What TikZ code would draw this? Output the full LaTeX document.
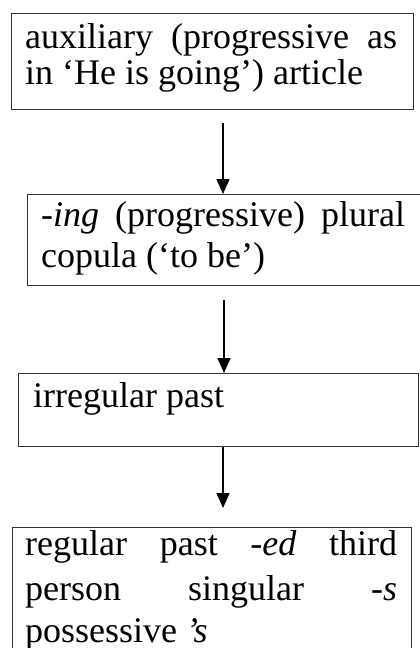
\documentclass[tikz,border=0pt]{standalone}
\usepackage{fontspec}
\setmainfont{Liberation Serif}
\usetikzlibrary{arrows.meta}
\begin{document}
\begin{tikzpicture}[x=1pt,y=-1pt,
  boxst/.style={draw=black!80,line width=1.3pt,inner sep=0pt,anchor=north west},
  txt/.style={anchor=base west,inner sep=0pt,font=\fontsize{36}{40}\selectfont},
  arr/.style={line width=1.6pt,-{Triangle[width=13pt,length=15pt]}}]
\useasboundingbox (0,0) rectangle (420,648);
\fill[white] (0,0) rectangle (420,648);
% boxes
\node[boxst,minimum width=402pt,minimum height=96pt] (b1) at (11,13) {};
\node[boxst,minimum width=400pt,minimum height=91pt] (b2) at (27,194) {};
\node[boxst,minimum width=400pt,minimum height=73pt] (b3) at (18,373) {};
\node[boxst,minimum width=399pt,minimum height=140pt] (b4) at (12,527) {};
% texts
\node[txt] (t11) at (25,48) {\makebox[372pt][s]{auxiliary (progressive as}};
\node[txt] (t12) at (25,84) {in ‘He is going’) article};
\node[txt] (t21) at (41,226) {\makebox[364pt][s]{-\textit{ing} (progressive) plural}};
\node[txt] (t22) at (41,267) {copula (‘to be’)};
\node[txt] (t31) at (33,407) {irregular past};
\node[txt] (t41) at (25,555) {\makebox[372pt][s]{regular past -\textit{ed} third}};
\node[txt] (t42) at (25,600) {\makebox[372pt][s]{person singular -\textit{s}}};
\node[txt] (t43) at (25,642) {possessive \textit{’s}};
% arrows
\coordinate (a1s) at (223,123);
\coordinate (a2s) at (224,300);
\coordinate (a3s) at (223,446);
\coordinate (a3e) at (223,508);
\draw[arr] (a1s) -- (a1s |- b2.north);
\draw[arr] (a2s) -- (a2s |- b3.north);
\draw[arr] (a3s |- b3.south) -- (a3e);
\end{tikzpicture}
\end{document}
